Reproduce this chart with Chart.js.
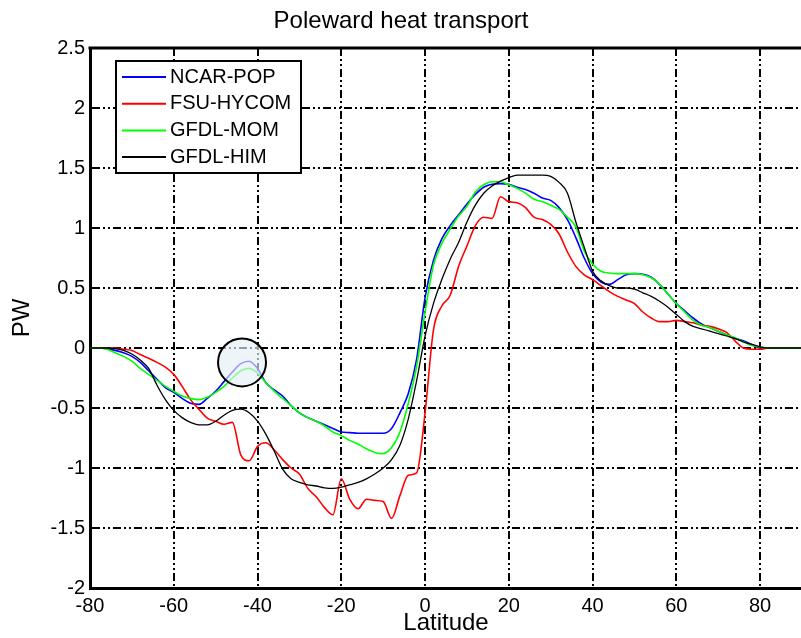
<!DOCTYPE html>
<html>
<head>
<meta charset="utf-8">
<title>Poleward heat transport</title>
<script src="https://cdn.jsdelivr.net/npm/chart.js@4.4.1/dist/chart.umd.min.js"></script>
<style>
  html, body { margin: 0; padding: 0; background: #fff; overflow: hidden; }
  #wrap { position: relative; width: 810px; height: 638px; }
</style>
</head>
<body>
<div id="wrap"><canvas id="heat" width="810" height="638"></canvas></div>
<script>
// latitude (deg) shared by all four models
const latitudes = [
  -80, -78, -76, -74, -72, -70, -68, -66, -64, -62,
  -60, -58, -56, -54, -52, -50, -48, -46, -44, -42,
  -40, -38, -36, -34, -32, -30, -28, -26, -24, -22,
  -20, -18, -16, -14, -12, -10, -8, -6, -4, -2,
  0, 2, 4, 6, 8, 10, 12, 14, 16, 18,
  20, 22, 24, 26, 28, 30, 32, 34, 36, 38,
  40, 42, 44, 46, 48, 50, 52, 54, 56, 58,
  60, 62, 64, 66, 68, 70, 72, 74, 76, 78,
  80, 82, 84, 86, 88, 90
];

// heat transport, PW
const ncarPop = [
  0, 0, -0.005, -0.02, -0.04, -0.07, -0.12, -0.19, -0.26, -0.33,
  -0.37, -0.42, -0.46, -0.47, -0.42, -0.36, -0.28, -0.20, -0.13, -0.11,
  -0.17, -0.29, -0.35, -0.40, -0.48, -0.54, -0.58, -0.61, -0.64, -0.67,
  -0.70, -0.705, -0.71, -0.71, -0.71, -0.71, -0.67, -0.54, -0.38, -0.09,
  0.42, 0.73, 0.91, 1.02, 1.11, 1.20, 1.28, 1.34, 1.365, 1.37,
  1.365, 1.34, 1.32, 1.29, 1.25, 1.23, 1.17, 1.07, 0.92, 0.75,
  0.62, 0.55, 0.53, 0.57, 0.61, 0.62, 0.615, 0.59, 0.53, 0.45,
  0.37, 0.31, 0.25, 0.20, 0.17, 0.14, 0.11, 0.08, 0.06, 0.03,
  0, 0, 0, 0, 0, 0
];

const fsuHycom = [
  0, 0, 0, 0, -0.01, -0.02, -0.055, -0.085, -0.12, -0.16,
  -0.22, -0.32, -0.43, -0.51, -0.585, -0.61, -0.635, -0.62, -0.89, -0.94,
  -0.82, -0.79, -0.85, -0.93, -1.0, -1.05, -1.17, -1.24, -1.33, -1.39,
  -1.09, -1.26, -1.34, -1.26, -1.27, -1.28, -1.42, -1.23, -1.06, -1.04,
  -0.54, 0.15, 0.35, 0.44, 0.68, 0.85, 1.02, 1.09, 1.08, 1.26,
  1.22, 1.21, 1.17, 1.09, 1.07, 1.03, 0.95, 0.80, 0.68, 0.61,
  0.57, 0.52, 0.47, 0.43, 0.40, 0.37, 0.30, 0.25, 0.22, 0.22,
  0.23, 0.22, 0.21, 0.19, 0.18, 0.16, 0.13, 0.06, 0.0, -0.01,
  -0.01, 0, 0, 0, 0, 0
];

const gfdlMom = [
  0, 0, -0.01, -0.04, -0.07, -0.11, -0.17, -0.22, -0.27, -0.32,
  -0.36, -0.40, -0.42, -0.43, -0.41, -0.37, -0.32, -0.25, -0.19, -0.17,
  -0.21, -0.29, -0.36, -0.42, -0.48, -0.54, -0.58, -0.61, -0.65, -0.70,
  -0.73, -0.77, -0.80, -0.84, -0.87, -0.88, -0.83, -0.70, -0.46, -0.15,
  0.30, 0.69, 0.87, 0.99, 1.10, 1.18, 1.30, 1.36, 1.385, 1.385,
  1.36, 1.33, 1.29, 1.24, 1.22, 1.19, 1.155, 1.09, 1.01, 0.81,
  0.70, 0.64, 0.625, 0.62, 0.62, 0.62, 0.61, 0.585, 0.53, 0.45,
  0.37, 0.30, 0.23, 0.19, 0.17, 0.14, 0.11, 0.085, 0.05, 0.02,
  0.01, 0, 0, 0, 0, 0
];

const gfdlHim = [
  0, 0, 0, -0.005, -0.02, -0.05, -0.10, -0.17, -0.31, -0.43,
  -0.52, -0.58, -0.62, -0.64, -0.64, -0.61, -0.56, -0.52, -0.51, -0.54,
  -0.61, -0.72, -0.86, -1.01, -1.09, -1.12, -1.14, -1.15, -1.165, -1.17,
  -1.16, -1.14, -1.12, -1.09, -1.05, -1.00, -0.93, -0.81, -0.59, -0.27,
  0.10, 0.37, 0.57, 0.74, 0.88, 1.05, 1.19, 1.29, 1.35, 1.39,
  1.42, 1.44, 1.44, 1.44, 1.44, 1.43, 1.38, 1.29, 1.05, 0.84,
  0.64, 0.56, 0.52, 0.50, 0.50, 0.49, 0.46, 0.43, 0.39, 0.34,
  0.28, 0.22, 0.18, 0.16, 0.14, 0.12, 0.10, 0.08, 0.05, 0.03,
  0.01, 0, 0, 0, 0, 0
];

const modelNames = ['NCAR-POP', 'FSU-HYCOM', 'GFDL-MOM', 'GFDL-HIM'];
const modelColors = ['#0000ff', '#ff0000', '#00ff00', '#000000'];

const xTicks = [-80, -60, -40, -20, 0, 20, 40, 60, 80];
const yTicks = [-2, -1.5, -1, -0.5, 0, 0.5, 1, 1.5, 2, 2.5];

// highlighted feature near 43S
const circleAt = { lat: -43.7, pw: -0.12 };

const gridDash = [8, 3, 2, 3, 2, 3];

const series = [ncarPop, fsuHycom, gfdlMom, gfdlHim];
const datasets = series.map((vals, i) => ({
  label: modelNames[i],
  data: latitudes.map((lat, k) => ({ x: lat, y: vals[k] })),
  borderColor: modelColors[i],
  borderWidth: i === 3 ? 1.3 : 1.6,
  pointRadius: 0,
  cubicInterpolationMode: 'monotone',
  order: 4 - i
}));

const extras = {
  id: 'extras',
  afterDatasetsDraw(chart) {
    const { ctx, scales: { x, y } } = chart;
    const cx = x.getPixelForValue(circleAt.lat);
    const cy = y.getPixelForValue(circleAt.pw);
    ctx.save();
    ctx.beginPath();
    ctx.arc(cx, cy, 24, 0, Math.PI * 2);
    ctx.fillStyle = 'rgba(228, 240, 244, 0.65)';
    ctx.fill();
    ctx.lineWidth = 2;
    ctx.strokeStyle = '#000';
    ctx.stroke();
    ctx.restore();
  },
  afterDraw(chart) {
    const { ctx, chartArea: a } = chart;
    ctx.save();
    // top of the frame
    ctx.strokeStyle = '#000';
    ctx.lineWidth = 3;
    ctx.beginPath();
    ctx.moveTo(a.left - 1.5, a.top);
    ctx.lineTo(a.right, a.top);
    ctx.stroke();

    // legend box
    const bx = a.left + 26, by = a.top + 13, bw = 185, bh = 112;
    ctx.fillStyle = '#fff';
    ctx.fillRect(bx, by, bw, bh);
    ctx.lineWidth = 2;
    ctx.strokeRect(bx, by, bw, bh);
    ctx.font = '20px "Liberation Sans", Arial, sans-serif';
    ctx.textBaseline = 'middle';
    ctx.textAlign = 'left';
    modelNames.forEach((name, i) => {
      const ry = by + 16 + i * 26.7;
      ctx.strokeStyle = modelColors[i];
      ctx.lineWidth = 2;
      ctx.beginPath();
      ctx.moveTo(bx + 6, ry);
      ctx.lineTo(bx + 50, ry);
      ctx.stroke();
      ctx.fillStyle = '#000';
      ctx.fillText(name, bx + 54, ry);
    });
    ctx.restore();
  }
};

new Chart(document.getElementById('heat'), {
  type: 'line',
  data: { datasets },
  options: {
    responsive: false,
    animation: false,
    events: [],
    layout: { padding: { left: 0, right: 8, top: 0, bottom: 0 } },
    plugins: {
      legend: { display: false },
      tooltip: { enabled: false },
      title: {
        display: true,
        text: 'Poleward heat transport',
        color: '#000',
        font: { family: '"Liberation Sans", Arial, sans-serif', size: 24, weight: 'normal', lineHeight: 1.2 },
        padding: { top: 7, bottom: 12.2 }
      }
    },
    scales: {
      x: {
        type: 'linear',
        min: -80,
        max: 90,
        afterBuildTicks: s => { s.ticks = xTicks.map(v => ({ value: v })); },
        afterFit: s => { s.height = 50; },
        ticks: {
          color: '#000',
          padding: 6,
          maxRotation: 0,
          font: { family: '"Liberation Sans", Arial, sans-serif', size: 20 },
          callback: v => String(v)
        },
        grid: { color: '#000', lineWidth: 2, drawTicks: false },
        border: { color: '#000', width: 3, dash: gridDash },
        title: {
          display: true,
          text: 'Latitude',
          color: '#000',
          font: { family: '"Liberation Sans", Arial, sans-serif', size: 24 },
          padding: { top: 0, bottom: 0 }
        }
      },
      y: {
        type: 'linear',
        min: -2,
        max: 2.5,
        afterBuildTicks: s => { s.ticks = yTicks.map(v => ({ value: v })); },
        afterFit: s => { s.width = 90; },
        ticks: {
          color: '#000',
          padding: 5,
          font: { family: '"Liberation Sans", Arial, sans-serif', size: 20 },
          callback: v => String(v)
        },
        grid: { color: '#000', lineWidth: 2, drawTicks: false },
        border: { color: '#000', width: 3, dash: gridDash },
        title: {
          display: true,
          text: 'PW',
          color: '#000',
          font: { family: '"Liberation Sans", Arial, sans-serif', size: 24 },
          padding: { top: 8, bottom: 0 }
        }
      }
    }
  },
  plugins: [extras]
});
</script>
</body>
</html>
